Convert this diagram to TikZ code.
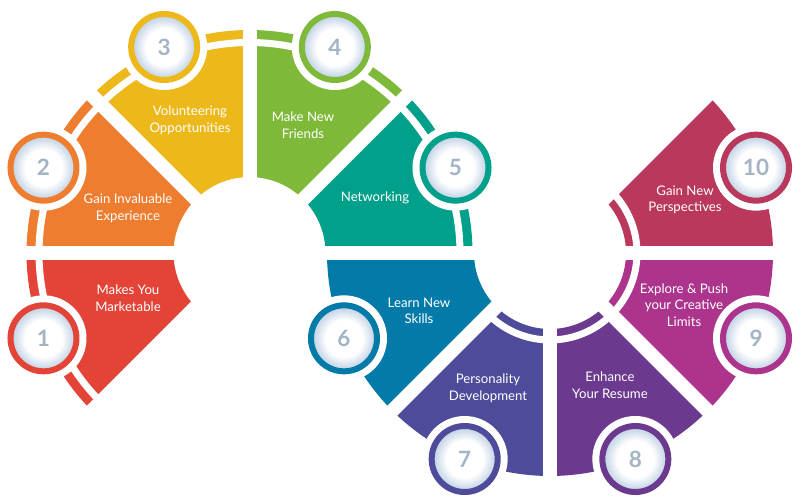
\documentclass[tikz,border=0pt]{standalone}
\usepackage{fontspec}
\setmainfont{Lato}
\usetikzlibrary{calc}
\definecolor{c1}{HTML}{E44438}
\definecolor{c2}{HTML}{EE7D30}
\definecolor{c3}{HTML}{ECB81A}
\definecolor{c4}{HTML}{7EB939}
\definecolor{c5}{HTML}{00A08A}
\definecolor{c6}{HTML}{037AA7}
\definecolor{c7}{HTML}{4E4B9B}
\definecolor{c8}{HTML}{6B3A8F}
\definecolor{c9}{HTML}{AD348C}
\definecolor{c10}{HTML}{BA385C}
\definecolor{numcol}{HTML}{A4B4C4}
\definecolor{glow}{HTML}{C8D7E8}
\pgfdeclareradialshading{numshade}{\pgfpoint{0bp}{0bp}}{color(0bp)=(white); color(14bp)=(white); color(22.5bp)=(glow); color(25bp)=(glow); color(50bp)=(glow)}
\newcommand\mysector[4]{\fill[#4] ($(#1)+(#2:76)$) arc[start angle=#2, end angle=#3, radius=76] -- ($(#1)+(#3:223)$) arc[start angle=#3, end angle=#2, radius=223] -- cycle;}
\tikzset{
  gapline/.style={draw=white, line width=14pt},
  bandline/.style={draw=white, line width=7pt},
  numdisc/.style={circle, minimum size=66pt, inner sep=0pt, line width=6pt, shading=numshade, text=numcol, font=\fontsize{22.5}{22.5}\selectfont\bfseries, preaction={draw=white, line width=20pt}},
  lbl/.style={text=white, align=center, inner sep=0pt, font=\fontsize{13.2}{16.6}\selectfont}
}
\begin{document}
\begin{tikzpicture}[x=1pt, y=1pt]
\useasboundingbox (0,0) rectangle (800,502);
\fill[white] (0,0) rectangle (800,502);
\coordinate (L) at (249.5,249);
\coordinate (R) at (550,249);
% left ring
\mysector{L}{180}{225}{c1}
\mysector{L}{135}{180}{c2}
\mysector{L}{90}{135}{c3}
\mysector{L}{45}{90}{c4}
\mysector{L}{0}{45}{c5}
% right ring
\mysector{R}{180}{225}{c6}
\mysector{R}{225}{270}{c7}
\mysector{R}{270}{315}{c8}
\mysector{R}{315}{360}{c9}
\mysector{R}{0}{45}{c10}
% band separators
\draw[bandline] ($(L)+(0:210.5)$) arc[start angle=0, end angle=225, radius=210.5];
\draw[bandline] ($(R)+(225:87)$) arc[start angle=225, end angle=405, radius=87];
% gaps
\foreach \a in {0,45,90,135,180,225} \draw[gapline] (L) -- ($(L)+(\a:232)$);
\foreach \a in {180,225,270,315,360,405} \draw[gapline] (R) -- ($(R)+(\a:232)$);
% number discs
\node[numdisc, draw=c1] (n1) at ($(L)+(202.5:223)$) {1};
\node[numdisc, draw=c2] (n2) at ($(L)+(157.5:223)$) {2};
\node[numdisc, draw=c3] (n3) at ($(L)+(112.5:223)$) {3};
\node[numdisc, draw=c4] (n4) at ($(L)+(67.5:223)$) {4};
\node[numdisc, draw=c5] (n5) at ($(L)+(22.5:223)$) {5};
\node[numdisc, draw=c6] (n6) at ($(R)+(202.5:223)$) {6};
\node[numdisc, draw=c7] (n7) at ($(R)+(247.5:223)$) {7};
\node[numdisc, draw=c8] (n8) at ($(R)+(292.5:223)$) {8};
\node[numdisc, draw=c9] (n9) at ($(R)+(337.5:223)$) {9};
\node[numdisc, draw=c10] (n10) at ($(R)+(22.5:223)$) {10};
% labels
\node[lbl] (t1) at (128,204) {Makes You\\Marketable};
\node[lbl] (t2) at (128,294) {Gain Invaluable\\Experience};
\node[lbl] (t3) at (190,382) {Volunteering\\Opportunities};
\node[lbl] (t4) at (303,377) {Make New\\Friends};
\node[lbl] (t5) at (375,304) {Networking};
\node[lbl] (t6) at (419,191) {Learn New\\Skills};
\node[lbl] (t7) at (488,114) {Personality\\Development};
\node[lbl] (t8) at (610,117) {Enhance\\Your Resume};
\node[lbl] (t9) at (684,197) {Explore \& Push\\your Creative\\Limits};
\node[lbl] (t10) at (685,302) {Gain New\\Perspectives};
\end{tikzpicture}
\end{document}
